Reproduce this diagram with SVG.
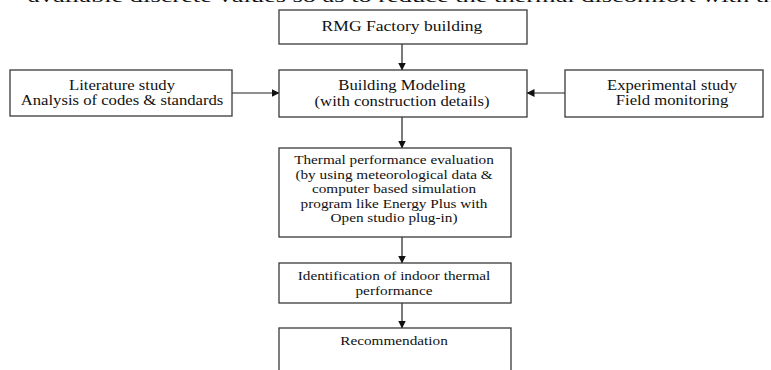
<svg xmlns="http://www.w3.org/2000/svg" width="771" height="370" viewBox="0 0 771 370">
<style>
.box{fill:#fff;stroke:#3a3a3a;stroke-width:1.3}
.t{font-family:"Liberation Serif","Times New Roman",serif;fill:#111;text-anchor:middle}
.up{font-size:14.5px}
.lo{font-size:13.5px}
.edge{stroke:#222;stroke-width:1.2;fill:none;marker-end:url(#ah)}
</style>
<defs>
<marker id="ah" markerWidth="8" markerHeight="8" refX="7.5" refY="4" orient="auto" markerUnits="userSpaceOnUse">
<path d="M0,0 L8,4 L0,8 z" fill="#111"/>
</marker>
</defs>
<rect width="771" height="370" fill="#fff"/>
<text class="t" x="28" y="2" style="text-anchor:start;font-size:17px" textLength="760" lengthAdjust="spacingAndGlyphs">available discrete values so as to reduce the thermal discomfort with the</text>
<g id="connectors">
<line class="edge" x1="402" y1="44" x2="402" y2="70"/>
<line class="edge" x1="232" y1="93" x2="279" y2="93"/>
<line class="edge" x1="565" y1="93" x2="527" y2="93"/>
<line class="edge" x1="402" y1="117" x2="402" y2="148"/>
<line class="edge" x1="402" y1="237" x2="402" y2="263"/>
<line class="edge" x1="402" y1="303" x2="402" y2="328"/>
</g>
<g id="rmg">
<rect class="box" x="279" y="10" width="248" height="34"/>
<g transform="translate(402,0) scale(1.17,1)">
<text class="t" x="0" y="31.5" style="font-size:15px">RMG Factory building</text>
</g>
</g>
<g id="literature">
<rect class="box" x="10" y="70" width="222" height="46"/>
<g transform="translate(122,0) scale(1.15,1)">
<text class="t up" x="0" y="90">Literature study</text>
<text class="t up" x="0" y="105.5">Analysis of codes &amp; standards</text>
</g>
</g>
<g id="building">
<rect class="box" x="279" y="70" width="248" height="47"/>
<g transform="translate(402,0) scale(1.15,1)">
<text class="t up" x="0" y="90">Building Modeling</text>
<text class="t up" x="0" y="106">(with construction details)</text>
</g>
</g>
<g id="experimental">
<rect class="box" x="565" y="70" width="198" height="47"/>
<g transform="translate(672,0) scale(1.15,1)">
<text class="t up" x="0" y="90">Experimental study</text>
<text class="t up" x="0" y="105.5">Field monitoring</text>
</g>
</g>
<g id="thermal">
<rect class="box" x="279" y="148" width="232" height="89"/>
<g transform="translate(394,0) scale(1.13,1)">
<text class="t lo" x="0" y="164.5">Thermal performance evaluation</text>
<text class="t lo" x="0" y="179">(by using meteorological data &amp;</text>
<text class="t lo" x="0" y="193.5">computer based simulation</text>
<text class="t lo" x="0" y="208">program like Energy Plus with</text>
<text class="t lo" x="0" y="222.5">Open studio plug-in)</text>
</g>
</g>
<g id="identification">
<rect class="box" x="279" y="263" width="232" height="40"/>
<g transform="translate(394,0) scale(1.13,1)">
<text class="t lo" x="0" y="280">Identification of indoor thermal</text>
<text class="t lo" x="0" y="295.5">performance</text>
</g>
</g>
<g id="recommendation">
<rect class="box" x="279" y="328" width="232" height="50"/>
<g transform="translate(394,0) scale(1.13,1)">
<text class="t lo" x="0" y="345.5">Recommendation</text>
</g>
</g>
</svg>
